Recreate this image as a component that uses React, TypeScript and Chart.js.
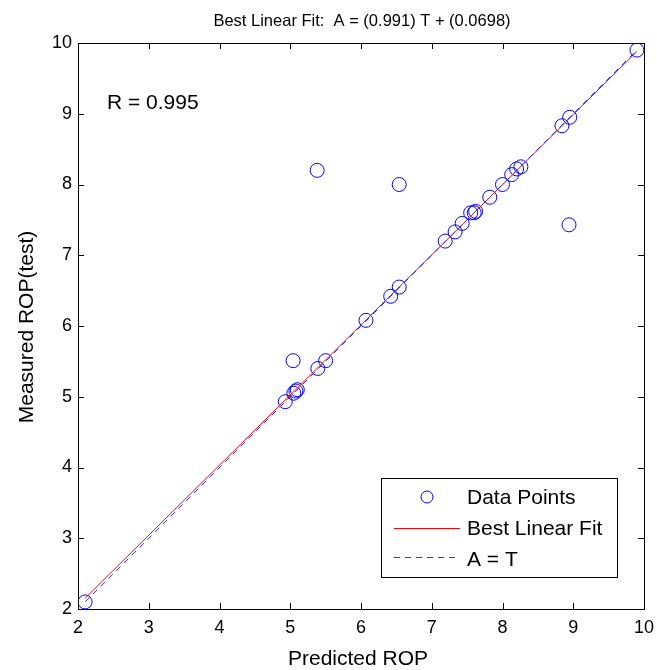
import React, { useEffect, useRef } from "react";
import { Chart, registerables } from "chart.js";
Chart.register(...registerables);

const predicted = [2.1, 4.93, 5.04, 5.05, 5.08, 5.1, 5.39, 5.5, 6.07, 6.42, 6.54, 7.19, 7.33, 7.43, 7.55, 7.6, 7.62, 7.82, 8.0, 8.13, 8.2, 8.26, 8.84, 8.95, 9.9, 5.38, 6.54, 8.94];
const measured = [2.1, 4.93, 5.51, 5.05, 5.08, 5.1, 5.4, 5.51, 6.08, 6.42, 6.55, 7.2, 7.33, 7.45, 7.6, 7.6, 7.62, 7.82, 8.0, 8.14, 8.22, 8.25, 8.83, 8.95, 9.9, 8.2, 8.0, 7.43];
const fitSlope = 0.991;
const fitIntercept = 0.0698;
const lineX = [2.1, 9.9];
const tickValues = [2, 3, 4, 5, 6, 7, 8, 9, 10];
const titleText = "Best Linear Fit:  A = (0.991) T + (0.0698)";
const xTitle = "Predicted ROP";
const yTitle = "Measured ROP(test)";
const rText = "R = 0.995";
const legendLabels = ["Data Points", "Best Linear Fit", "A = T"];

const FONT = "Liberation Sans, Arial, Helvetica, sans-serif";

const framePlugin = {
  id: "frame",
  afterDraw(chart: any) {
    const { ctx, chartArea: a, scales } = chart;
    const xs = scales.x, ys = scales.y;
    ctx.save();
    ctx.strokeStyle = "#000";
    ctx.lineWidth = 1;
    ctx.strokeRect(Math.round(a.left) + 0.5, Math.round(a.top) + 0.5, Math.round(a.right - a.left), Math.round(a.bottom - a.top));
    const tl = 6;
    ctx.beginPath();
    tickValues.forEach((v) => {
      const px = Math.round(xs.getPixelForValue(v)) + 0.5;
      ctx.moveTo(px, a.bottom); ctx.lineTo(px, a.bottom - tl);
      ctx.moveTo(px, a.top); ctx.lineTo(px, a.top + tl);
      const py = Math.round(ys.getPixelForValue(v)) + 0.5;
      ctx.moveTo(a.left, py); ctx.lineTo(a.left + tl, py);
      ctx.moveTo(a.right, py); ctx.lineTo(a.right - tl, py);
    });
    ctx.stroke();

    ctx.fillStyle = "#000";
    ctx.font = `16.5px ${FONT}`;
    ctx.textAlign = "center";
    ctx.textBaseline = "alphabetic";
    ctx.fillText(titleText, 362, 26);
    ctx.font = `21px ${FONT}`;
    ctx.fillText(xTitle, 358, 665);
    ctx.save();
    ctx.translate(33, 327);
    ctx.rotate(-Math.PI / 2);
    ctx.fillText(yTitle, 0, 0);
    ctx.restore();

    ctx.textAlign = "left";
    ctx.fillText(rText, 107, 109);

    // legend
    const lx = 381, ly = 478, lw = 236, lh = 99;
    ctx.fillStyle = "#fff";
    ctx.fillRect(lx, ly, lw, lh);
    ctx.strokeStyle = "#000";
    ctx.strokeRect(lx + 0.5, ly + 0.5, lw, lh);
    ctx.strokeStyle = "#0000ff";
    ctx.beginPath();
    ctx.arc(427, 497, 6, 0, Math.PI * 2);
    ctx.stroke();
    ctx.strokeStyle = "#ff0000";
    ctx.beginPath();
    ctx.moveTo(394, 528.5); ctx.lineTo(460, 528.5);
    ctx.stroke();
    ctx.strokeStyle = "#3030ff";
    ctx.setLineDash([6, 5]);
    ctx.beginPath();
    ctx.moveTo(394, 557.5); ctx.lineTo(460, 557.5);
    ctx.stroke();
    ctx.setLineDash([]);
    ctx.fillStyle = "#000";
    ctx.font = `21px ${FONT}`;
    ctx.textBaseline = "middle";
    ctx.fillText(legendLabels[0], 467, 498);
    ctx.fillText(legendLabels[1], 467, 529);
    ctx.fillText(legendLabels[2], 467, 560);
    ctx.restore();
  },
};

export default function App() {
  const ref = useRef<HTMLCanvasElement>(null);
  useEffect(() => {
    const points = predicted.map((x, i) => ({ x, y: measured[i] }));
    const fit = lineX.map((x) => ({ x, y: fitSlope * x + fitIntercept }));
    const ident = lineX.map((x) => ({ x, y: x }));
    const chart = new Chart(ref.current!, {
      type: "scatter",
      data: {
        datasets: [
          {
            type: "line",
            data: ident,
            borderColor: "#3030ff",
            borderWidth: 1,
            borderDash: [6, 5],
            pointRadius: 0,
            showLine: true,
            fill: false,
          },
          {
            type: "line",
            data: fit,
            borderColor: "#ff0000",
            borderWidth: 1,
            pointRadius: 0,
            showLine: true,
            fill: false,
          },
          {
            data: points,
            pointRadius: 7,
            pointBorderColor: "#0000ff",
            pointBackgroundColor: "rgba(0,0,0,0)",
            pointBorderWidth: 1,
            showLine: false,
          },
        ],
      },
      options: {
        animation: false,
        responsive: false,
        maintainAspectRatio: false,
        layout: { padding: { top: 43, right: 13, left: 0, bottom: 0 } },
        plugins: { legend: { display: false }, tooltip: { enabled: false }, title: { display: false } },
        scales: {
          x: {
            type: "linear",
            min: 2,
            max: 10,
            afterFit: (s: any) => { s.height = 61; s.paddingLeft = 0; s.paddingRight = 0; },
            afterBuildTicks: (s: any) => { s.ticks = tickValues.map((v) => ({ value: v })); },
            grid: { display: false, drawTicks: false },
            border: { display: false },
            ticks: { color: "#000", font: { size: 18, family: FONT }, padding: 8, maxRotation: 0 },
          },
          y: {
            type: "linear",
            min: 2,
            max: 10,
            afterFit: (s: any) => { s.width = 78; s.paddingTop = 0; s.paddingBottom = 0; },
            afterBuildTicks: (s: any) => { s.ticks = tickValues.map((v) => ({ value: v })); },
            grid: { display: false, drawTicks: false },
            border: { display: false },
            ticks: { color: "#000", font: { size: 18, family: FONT }, padding: 6 },
          },
        },
      },
      plugins: [framePlugin],
    });
    return () => chart.destroy();
  }, []);
  return (
    <div style={{ position: "fixed", left: 0, top: 0, width: 657, height: 670, background: "#fff" }}>
      <canvas ref={ref} width={657} height={670} style={{ width: 657, height: 670 }} />
    </div>
  );
}
